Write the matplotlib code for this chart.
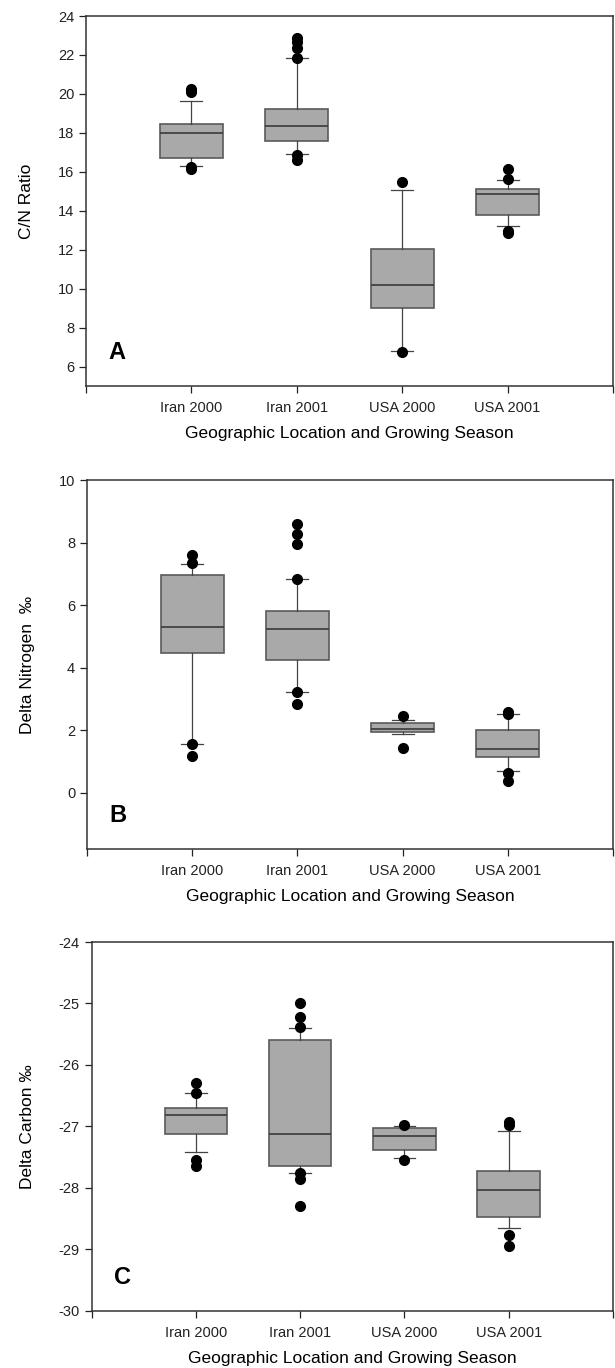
import matplotlib
matplotlib.use("Agg")
import matplotlib.pyplot as plt

plt.rcParams['font.family'] = ['Liberation Sans', 'DejaVu Sans']
plt.rcParams['axes.unicode_minus'] = False

groups = ["Iran 2000", "Iran 2001", "USA 2000", "USA 2001"]

# A: C/N ratio
cn_q1 = [16.73, 17.57, 9.00, 13.76]
cn_med = [18.00, 18.37, 10.21, 14.84]
cn_q3 = [18.48, 19.22, 12.05, 15.14]
cn_lo = [16.28, 16.92, 6.82, 13.23]
cn_hi = [19.64, 21.86, 15.09, 15.56]
cn_out = [[20.25, 20.10, 16.25, 16.15],
          [22.85, 22.65, 22.35, 21.85, 16.85, 16.62],
          [15.49, 6.73],
          [16.15, 15.64, 12.97, 12.85]]

# B: delta nitrogen
n_q1 = [4.47, 4.25, 1.95, 1.14]
n_med = [5.30, 5.24, 2.04, 1.41]
n_q3 = [6.96, 5.80, 2.24, 2.02]
n_lo = [1.57, 3.22, 1.88, 0.68]
n_hi = [7.31, 6.82, 2.34, 2.53]
n_out = [[7.60, 7.35, 1.57, 1.16],
         [8.58, 8.27, 7.94, 6.82, 3.22, 2.85],
         [2.44, 1.44],
         [2.58, 2.53, 0.64, 0.37]]

# C: delta carbon
c_q1 = [-27.13, -27.65, -27.38, -28.47]
c_med = [-26.82, -27.12, -27.16, -28.03]
c_q3 = [-26.70, -25.59, -27.03, -27.72]
c_lo = [-27.41, -27.76, -27.51, -28.65]
c_hi = [-26.45, -25.40, -27.00, -27.07]
c_out = [[-26.30, -26.45, -27.55, -27.65],
         [-25.00, -25.22, -25.38, -27.76, -27.85, -28.30],
         [-26.98, -27.54],
         [-26.93, -26.97, -28.76, -28.95]]

panels = [
    dict(q1=cn_q1, med=cn_med, q3=cn_q3, lo=cn_lo, hi=cn_hi, out=cn_out,
         ylabel="C/N Ratio", ylim=(5, 24), yticks=range(6, 25, 2), letter="A",
         rect=[0.1398, 0.7178, 0.8569, 0.2705]),
    dict(q1=n_q1, med=n_med, q3=n_q3, lo=n_lo, hi=n_hi, out=n_out,
         ylabel="Delta Nitrogen  \u2030", ylim=(-1.8, 10), yticks=range(0, 11, 2), letter="B",
         rect=[0.1415, 0.3794, 0.8553, 0.2697]),
    dict(q1=c_q1, med=c_med, q3=c_q3, lo=c_lo, hi=c_hi, out=c_out,
         ylabel="Delta Carbon \u2030", ylim=(-30, -24), yticks=range(-30, -23), letter="C",
         rect=[0.1490, 0.0417, 0.8478, 0.2697]),
]

fig = plt.figure(figsize=(6.15, 13.68), dpi=100)

for p in panels:
    ax = fig.add_axes(p["rect"])
    stats = []
    for i in range(len(groups)):
        stats.append(dict(med=p["med"][i], q1=p["q1"][i], q3=p["q3"][i],
                          whislo=p["lo"][i], whishi=p["hi"][i],
                          fliers=p["out"][i], label=groups[i]))
    ax.bxp(stats, positions=[1, 2, 3, 4], widths=0.6, patch_artist=True,
           boxprops=dict(facecolor="#a9a9a9", edgecolor="#5a5a5a", linewidth=1.2),
           medianprops=dict(color="#3a3a3a", linewidth=1.2),
           whiskerprops=dict(color="#444444", linewidth=0.9),
           capprops=dict(color="#444444", linewidth=0.9),
           capwidths=0.21,
           flierprops=dict(marker="o", markerfacecolor="black", markeredgecolor="black",
                           markersize=7, linestyle="none"))
    ax.set_xlim(0, 5)
    ax.set_xticks([0, 1, 2, 3, 4, 5])
    ax.set_xticklabels([""] + groups + [""], fontsize=10.5)
    ax.set_ylim(*p["ylim"])
    ax.set_yticks(list(p["yticks"]))
    ax.tick_params(axis="y", labelsize=10.5, direction="out", length=5, width=0.9, colors="#222222")
    ax.tick_params(axis="x", direction="out", length=5, width=0.9, colors="#222222", pad=6)
    for s in ax.spines.values():
        s.set_color("#333333")
        s.set_linewidth(1.1)
    ax.set_ylabel(p["ylabel"], fontsize=12.5, labelpad=17)
    ax.set_xlabel("Geographic Location and Growing Season", fontsize=12.5, labelpad=8)
    ax.text(0.042, 0.06, p["letter"], transform=ax.transAxes, fontsize=17,
            fontweight="bold", ha="left", va="bottom")

fig.savefig("out.png", dpi=100)
